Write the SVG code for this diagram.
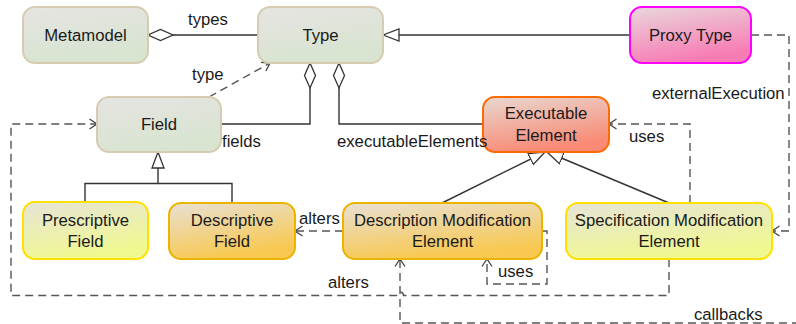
<svg xmlns="http://www.w3.org/2000/svg" width="796" height="324" viewBox="0 0 796 324">
<defs>
<style>
.node rect{stroke-width:2}
.t{font-family:"Liberation Sans",Arial,sans-serif;font-size:16.7px;fill:#1a1a1a;text-anchor:middle}
.l{font-family:"Liberation Sans",Arial,sans-serif;font-size:16.7px;fill:#1a1a1a}
.solid{fill:none;stroke:#333;stroke-width:1.4}
.dash{fill:none;stroke:#555;stroke-width:1.4;stroke-dasharray:8,5}
</style>
<linearGradient id="gGray" x1="0" y1="0" x2="0.35" y2="1"><stop offset="0" stop-color="#e6e4e2"/><stop offset="1" stop-color="#d8e4d0"/></linearGradient>
<linearGradient id="gPink" x1="0" y1="0" x2="0.35" y2="1"><stop offset="0" stop-color="#e8d8dc"/><stop offset="1" stop-color="#f87cb4"/></linearGradient>
<linearGradient id="gOrange" x1="0" y1="0" x2="0.35" y2="1"><stop offset="0" stop-color="#e8d8d0"/><stop offset="1" stop-color="#f98a76"/></linearGradient>
<linearGradient id="gYellow" x1="0" y1="0" x2="0.35" y2="1"><stop offset="0" stop-color="#e6e4d8"/><stop offset="1" stop-color="#f0f890"/></linearGradient>
<linearGradient id="gGold" x1="0" y1="0" x2="0.35" y2="1"><stop offset="0" stop-color="#e8e0d4"/><stop offset="1" stop-color="#f8c850"/></linearGradient>
<marker id="arrow" markerUnits="userSpaceOnUse" markerWidth="12" markerHeight="12" refX="9" refY="6" orient="auto"><path d="M1.5,1 L9,6 L1.5,11" fill="none" stroke="#444" stroke-width="1.3"/></marker>
<marker id="diamond" markerUnits="userSpaceOnUse" markerWidth="28" markerHeight="14" refX="0.5" refY="7" orient="auto"><path d="M0.5,7 L13,1.5 L25.5,7 L13,12.5 Z" fill="#fff" stroke="#333" stroke-width="1.3"/></marker>
<marker id="tri" markerUnits="userSpaceOnUse" markerWidth="18" markerHeight="14" refX="16.5" refY="7" orient="auto"><path d="M16.5,7 L0.5,1 L0.5,13 Z" fill="#fff" stroke="#333" stroke-width="1.3"/></marker>
</defs>

<g id="connectors">
<path class="solid" d="M148,35 H258" marker-start="url(#diamond)"/>
<path class="solid" d="M630,35 H383" marker-end="url(#tri)"/>
<path class="dash" d="M209,97 L270,63" marker-end="url(#arrow)"/>
<path class="solid" d="M310,63 V124 H221" marker-start="url(#diamond)"/>
<path class="solid" d="M339,63 V124 H483" marker-start="url(#diamond)"/>
<path class="solid" d="M232,203 V183.5 H158"/>
<path class="solid" d="M85,202 V183.5 H158 V152" marker-end="url(#tri)"/>
<path class="solid" d="M442,203 L545,152" marker-end="url(#tri)"/>
<path class="solid" d="M669,203 L547,152" marker-end="url(#tri)"/>
<path class="dash" d="M343,231 H295" marker-end="url(#arrow)"/>
<path class="dash" d="M542,231 H547 V284 H487 V259" marker-end="url(#arrow)"/>
<path class="dash" d="M690,203 V124 H609" marker-end="url(#arrow)"/>
<path class="dash" d="M751,35 H789 V231 H772" marker-end="url(#arrow)"/>
<path class="dash" d="M669,259 V295.5 H403.5 A3.5,3.5 0 0 0 396.5,295.5 H11 V124 H97" marker-end="url(#arrow)"/>
<path class="dash" d="M800,323 H400 V259" marker-end="url(#arrow)"/>
</g>

<g id="metamodel" class="node"><rect x="23" y="7" width="125" height="56" rx="12" fill="url(#gGray)" stroke="#d6ccb2"/><text class="t" x="85.5" y="41">Metamodel</text></g>
<g id="type" class="node"><rect x="258" y="7" width="125" height="56" rx="12" fill="url(#gGray)" stroke="#d6ccb2"/><text class="t" x="320.5" y="41">Type</text></g>
<g id="proxy-type" class="node"><rect x="630" y="7" width="121" height="56" rx="12" fill="url(#gPink)" stroke="#ff00ff"/><text class="t" x="690.5" y="41">Proxy Type</text></g>
<g id="field" class="node"><rect x="97" y="97" width="124" height="55" rx="12" fill="url(#gGray)" stroke="#d6ccb2"/><text class="t" x="159" y="130">Field</text></g>
<g id="executable-element" class="node"><rect x="483" y="97" width="126" height="55" rx="12" fill="url(#gOrange)" stroke="#ff6a00"/><text class="t" x="546" y="119">Executable</text><text class="t" x="546" y="140.5">Element</text></g>
<g id="prescriptive-field" class="node"><rect x="23" y="202" width="125" height="57" rx="12" fill="url(#gYellow)" stroke="#ffe000"/><text class="t" x="85.5" y="225.5">Prescriptive</text><text class="t" x="85.5" y="246.5">Field</text></g>
<g id="descriptive-field" class="node"><rect x="169" y="203" width="126" height="56" rx="12" fill="url(#gGold)" stroke="#ebb400"/><text class="t" x="232" y="225.5">Descriptive</text><text class="t" x="232" y="246.5">Field</text></g>
<g id="description-modification-element" class="node"><rect x="343" y="203" width="199" height="56" rx="12" fill="url(#gGold)" stroke="#ebb400"/><text class="t" x="442.5" y="226">Description Modification</text><text class="t" x="442.5" y="246.5">Element</text></g>
<g id="specification-modification-element" class="node"><rect x="566" y="203" width="206" height="56" rx="12" fill="url(#gYellow)" stroke="#ffe000"/><text class="t" x="669" y="226">Specification Modification</text><text class="t" x="669" y="246.5">Element</text></g>

<g id="connector-labels">
<text class="l" x="188" y="25">types</text>
<text class="l" x="192" y="80">type</text>
<text class="l" x="222" y="147">fields</text>
<text class="l" x="337" y="147">executableElements</text>
<text class="l" x="652" y="99">externalExecution</text>
<text class="l" x="629" y="142">uses</text>
<text class="l" x="299" y="224">alters</text>
<text class="l" x="498" y="277">uses</text>
<text class="l" x="328" y="288">alters</text>
<text class="l" x="694" y="320">callbacks</text>
</g>
</svg>
